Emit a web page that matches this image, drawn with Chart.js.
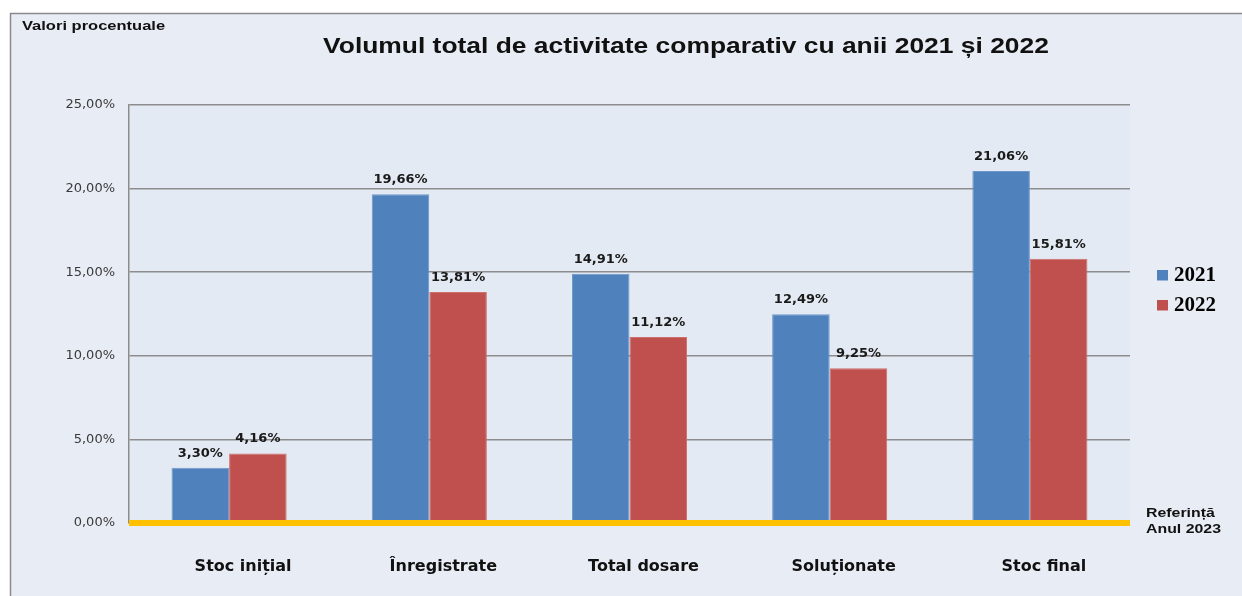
<!DOCTYPE html>
<html><head><meta charset="utf-8">
<script src="https://cdn.jsdelivr.net/npm/chart.js@4.4.0/dist/chart.umd.min.js"></script>
<style>html,body{margin:0;padding:0;background:#fff;overflow:hidden}#wrap{width:1242px;height:596px;position:relative}canvas{display:block}</style>
</head><body><div id="wrap"><canvas id="c"></canvas></div>
<script>
const categories = ['Stoc inițial', 'Înregistrate', 'Total dosare', 'Soluționate', 'Stoc final'];
const seriesLabels = ['2021', '2022'];
const series2021 = [3.30, 19.66, 14.91, 12.49, 21.06];
const series2022 = [4.16, 13.81, 11.12, 9.25, 15.81];
const yTickValues = [0, 5, 10, 15, 20, 25];
const yTickLabels = ['0,00%', '5,00%', '10,00%', '15,00%', '20,00%', '25,00%'];
const chartTitle = 'Volumul total de activitate comparativ cu anii 2021 și 2022';
const yAxisTitle = 'Valori procentuale';
const refLabel = ['Referință', 'Anul 2023'];

const colors = ['#4f81bd', '#c0504d'];
const fmt = v => v.toFixed(2).replace('.', ',') + '%';

function stretchText(ctx, text, x, y, font, sx, align) {
  ctx.save();
  ctx.font = font;
  ctx.translate(x, y);
  ctx.scale(sx, 1);
  ctx.textAlign = align;
  ctx.textBaseline = 'middle';
  ctx.fillText(text, 0, 0);
  ctx.restore();
}

const decor = {
  id: 'decor',
  beforeDraw(chart) {
    const ctx = chart.ctx, a = chart.chartArea;
    ctx.save();
    ctx.fillStyle = '#ffffff';
    ctx.fillRect(0, 0, chart.width, chart.height);
    ctx.fillStyle = '#e8ecf4';
    ctx.fillRect(10, 13, chart.width - 10, chart.height - 13);
    ctx.strokeStyle = '#8a8a8a';
    ctx.lineWidth = 1.5;
    ctx.beginPath();
    ctx.moveTo(10.5, chart.height);
    ctx.lineTo(10.5, 13.5);
    ctx.lineTo(chart.width + 5, 13.5);
    ctx.stroke();
    ctx.fillStyle = '#e4eaf3';
    ctx.fillRect(a.left, a.top, a.right - a.left, a.bottom - a.top);
    ctx.fillStyle = '#111';
    stretchText(ctx, yAxisTitle, 22, 26, 'bold 13px "Liberation Sans"', 1.27, 'left');
    stretchText(ctx, chartTitle, 686, 47, 'bold 22px "Liberation Sans"', 1.2, 'center');
    ctx.restore();
  },
  afterDatasetsDraw(chart) {
    const ctx = chart.ctx, a = chart.chartArea;
    const y0 = chart.scales.y.getPixelForValue(0);
    ctx.save();
    ctx.strokeStyle = '#ffc000';
    ctx.lineWidth = 6;
    ctx.beginPath();
    ctx.moveTo(a.left, y0);
    ctx.lineTo(a.right, y0);
    ctx.stroke();
    // data labels
    ctx.fillStyle = '#1a1a1a';
    ctx.font = 'bold 13px "DejaVu Sans"';
    ctx.textAlign = 'center';
    ctx.textBaseline = 'middle';
    chart.data.datasets.forEach((ds, i) => {
      chart.getDatasetMeta(i).data.forEach((bar, j) => {
        ctx.fillText(fmt(ds.data[j]), bar.x, bar.y - 14.5);
      });
    });
    // legend
    ctx.textAlign = 'left';
    chart.data.datasets.forEach((ds, i) => {
      const cy = 275 + i * 30;
      ctx.fillStyle = ds.backgroundColor;
      ctx.fillRect(1157, cy - 5, 11, 10.5);
      ctx.fillStyle = '#000';
      ctx.font = 'bold 21px "Liberation Serif"';
      ctx.fillText(ds.label, 1174, cy + 1);
    });
    ctx.fillStyle = '#111';
    stretchText(ctx, refLabel[0], 1146, 514, 'bold 12.5px "Liberation Sans"', 1.27, 'left');
    stretchText(ctx, refLabel[1], 1146, 530, 'bold 12.5px "Liberation Sans"', 1.27, 'left');
    ctx.restore();
  }
};

new Chart(document.getElementById('c'), {
  type: 'bar',
  data: {
    labels: categories,
    datasets: [
      { label: seriesLabels[0], data: series2021, backgroundColor: colors[0], borderColor: '#6f97c9', borderWidth: 1 },
      { label: seriesLabels[1], data: series2022, backgroundColor: colors[1], borderColor: '#cd706d', borderWidth: 1 }
    ]
  },
  options: {
    responsive: true,
    maintainAspectRatio: false,
    animation: false,
    devicePixelRatio: 1,
    layout: { padding: { left: 0, top: 105, right: 112, bottom: 0 } },
    plugins: { legend: { display: false }, title: { display: false }, tooltip: { enabled: false } },
    datasets: { bar: { categoryPercentage: 0.575, barPercentage: 1 } },
    scales: {
      x: {
        grid: { display: false, drawTicks: false },
        border: { display: false },
        ticks: { color: '#111', font: { family: 'DejaVu Sans', size: 16, weight: 'bold' }, padding: 34, labelOffset: 14, maxRotation: 0 },
        afterFit(s) { s.height = 73; }
      },
      y: {
        min: 0, max: 25,
        ticks: {
          stepSize: 5, padding: 14, color: '#3a3a3a',
          font: { family: 'DejaVu Sans', size: 13 },
          callback: v => { const k = yTickValues.indexOf(v); return k >= 0 ? yTickLabels[k] : ''; }
        },
        grid: { color: '#8c8c8c', lineWidth: 1.5, drawTicks: false },
        border: { display: true, color: '#8c8c8c', width: 1.5 },
        afterFit(s) { s.width = 129; }
      }
    }
  },
  plugins: [decor]
});
</script></body></html>
